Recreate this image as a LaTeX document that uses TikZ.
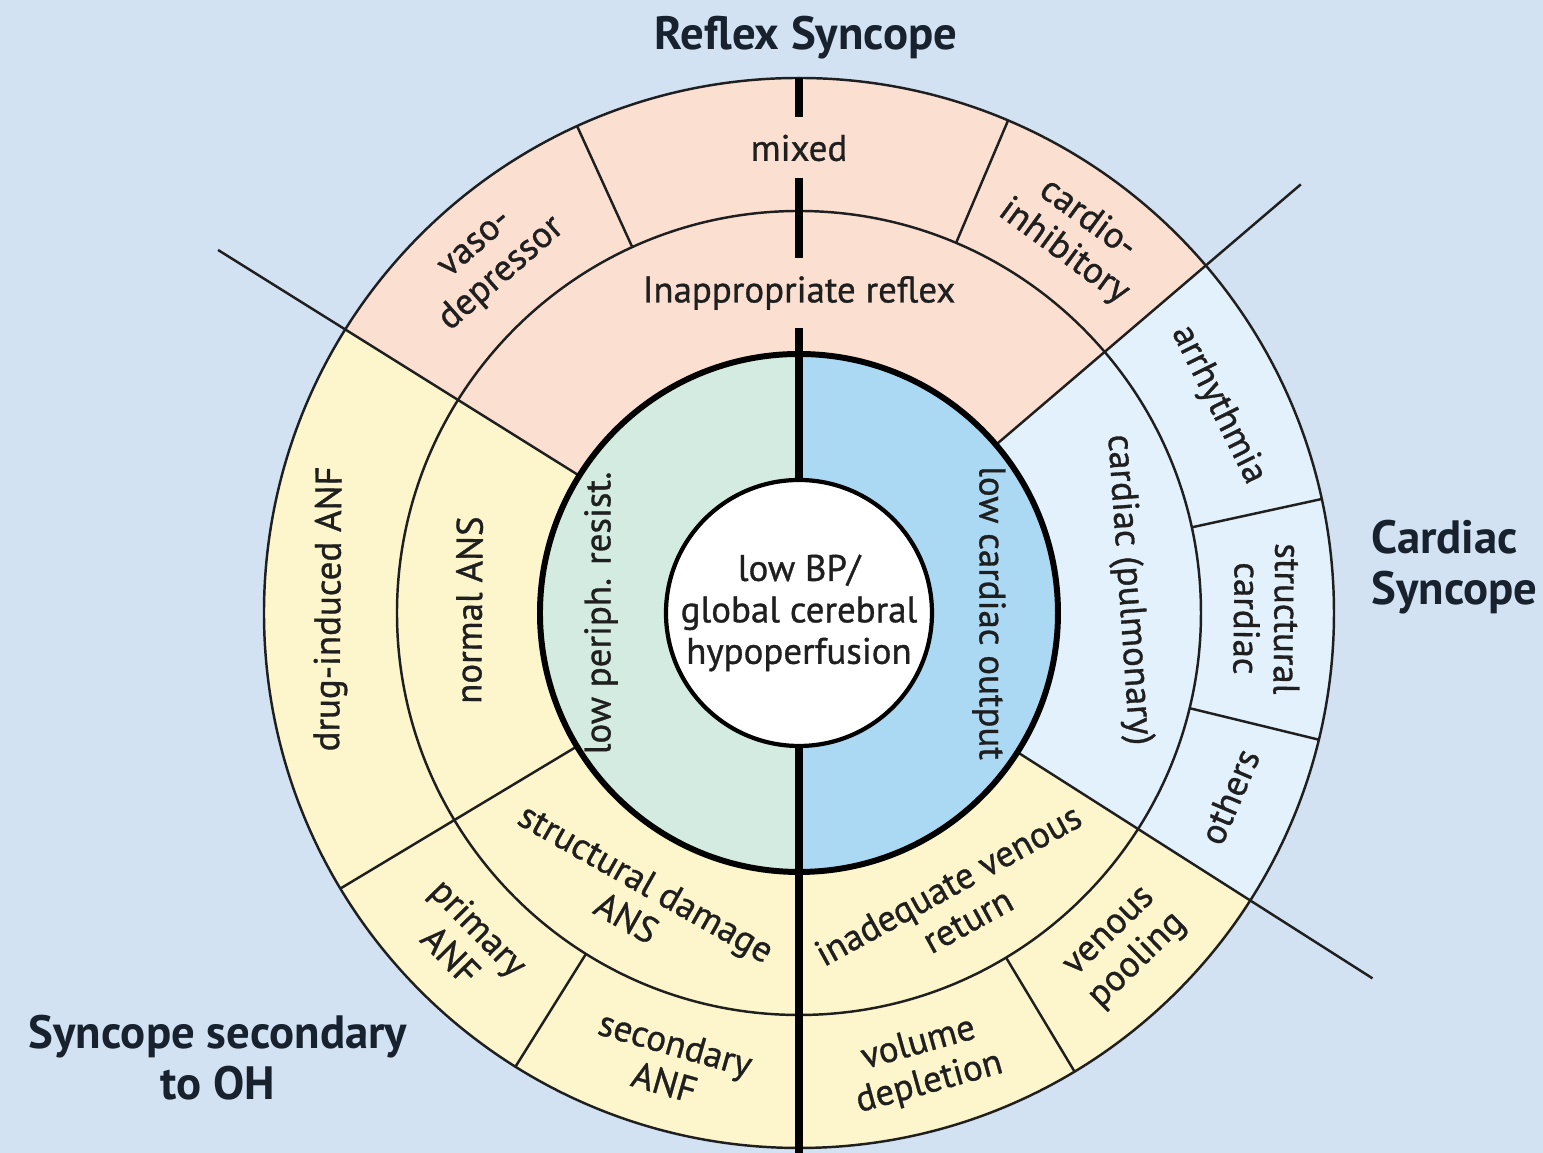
\documentclass[tikz,border=0pt]{standalone}
\usepackage{fontspec}
\setmainfont{PT Sans}
\newfontfamily\ringfont{PT Sans}[RawFeature={embolden=0.9}]
\usetikzlibrary{calc}
\definecolor{bgblue}{HTML}{D2E2F2}
\definecolor{reflexpeach}{HTML}{FBE0D2}
\definecolor{ohyellow}{HTML}{FDF5CB}
\definecolor{cardblue}{HTML}{E2F1FB}
\definecolor{periphgreen}{HTML}{D3EBE0}
\definecolor{outputblue}{HTML}{ABD9F3}
\definecolor{inkgray}{HTML}{1F1F1F}
\definecolor{titleink}{HTML}{18222F}
\tikzset{
  ring/.style={line width=0.7pt, draw=inkgray},
  ringlabel/.style={font=\ringfont\fontsize{10.5}{11.5}\selectfont, align=center, text=inkgray, inner sep=1pt},
  syncopetitle/.style={font=\bfseries\fontsize{13.3}{14.5}\selectfont, align=center, text=titleink},
}

\begin{document}
\begin{tikzpicture}
  % Frame
  \fill[bgblue] (-7.99,-5.40) rectangle (7.44,6.13);
  \useasboundingbox (-7.99,-5.40) rectangle (7.44,6.13);

  % Outer sectors
  \fill[reflexpeach] (40.5:2.59) arc (40.5:148:2.59) -- (148:5.35) arc (148:40.5:5.35) -- cycle;
  \fill[ohyellow] (148:2.59) arc (148:327.5:2.59) -- (327.5:5.35) arc (327.5:148:5.35) -- cycle;
  \fill[cardblue] (-32.5:2.59) arc (-32.5:40.5:2.59) -- (40.5:5.35) arc (40.5:-32.5:5.35) -- cycle;

  % Inner ring
  \fill[periphgreen] (90:2.59) arc (90:270:2.59) -- cycle;
  \fill[outputblue] (-90:2.59) arc (-90:90:2.59) -- cycle;

  % Circles
  \draw[ring] (0,0) circle (4.02);
  \draw[ring] (0,0) circle (5.35);

  % Dividers
  \draw[ring] (148:2.59) -- (148:6.85);
  \draw[ring] (40.5:2.59) -- (40.5:6.60);
  \draw[ring] (-32.5:2.59) -- (-32.5:6.80);
  \draw[ring] (211:2.59) -- (211:5.35);
  \foreach \a in {114.5,67,12.3,-13.7,-59,238}
    \draw[ring] (\a:4.02) -- (\a:5.35);

  % Thick circle
  \draw[line width=1.7pt] (0,0) circle (2.59);

  % Vertical axis
  \draw[line width=2.5pt] (90:5.35) -- (90:4.96);
  \draw[line width=2.5pt] (90:4.35) -- (90:3.55);
  \draw[line width=2.5pt] (90:2.85) -- (90:1.33);
  \draw[line width=2.5pt] (270:1.33) -- (270:5.40);

  % Centre
  \node[circle, draw, fill=white, line width=1.2pt, minimum size=2.66cm, inner sep=0pt,
        font=\ringfont\fontsize{10.5}{11.8}\selectfont, align=center, text=inkgray] (centre) at (0,0)
        {low BP/\\global cerebral\\hypoperfusion};

  % Inner labels
  \node[ringlabel, rotate=90] (periph) at (180:1.98) {low periph. resist.};
  \node[ringlabel, rotate=-90] (output) at (0:1.90) {low cardiac output};

  % Middle labels
  \node[ringlabel] (inapp) at (90:3.20) {Inappropriate reflex};
  \node[ringlabel, rotate=89.5] (normalANS) at (179.5:3.30) {normal ANS};
  \node[ringlabel, rotate=-29.5] (structANS) at (240.5:3.30) {structural damage\\ANS};
  \node[ringlabel, rotate=28.75] (venreturn) at (-61.25:3.30) {inadequate venous\\return};
  \node[ringlabel, rotate=-86] (pulmonary) at (4:3.30) {cardiac (pulmonary)};

  % Outer labels
  \node[ringlabel] (mixed) at (90:4.65) {mixed};
  \node[ringlabel, rotate=41.25] (vaso) at (131.25:4.68) {vaso-\\depressor};
  \node[ringlabel, rotate=-36.25] (cardioinhib) at (53.75:4.68) {cardio-\\inhibitory};
  \node[ringlabel, rotate=-63.6] (arrhythmia) at (26.4:4.68) {arrhythmia};
  \node[ringlabel, rotate=-90.7] (structcard) at (-0.7:4.68) {structural\\cardiac};
  \node[ringlabel, rotate=66.9] (others) at (-23.1:4.68) {others};
  \node[ringlabel, rotate=44.25] (pooling) at (-45.75:4.68) {venous\\pooling};
  \node[ringlabel, rotate=15.5] (volume) at (-74.5:4.68) {volume\\depletion};
  \node[ringlabel, rotate=-16] (secANF) at (254:4.68) {secondary\\ANF};
  \node[ringlabel, rotate=-45.5] (primANF) at (224.5:4.68) {primary\\ANF};
  \node[ringlabel, rotate=89.5] (druginduced) at (179.5:4.68) {drug-induced ANF};

  % Titles
  \node[syncopetitle] (reflexT) at (0.07,5.75) {Reflex Syncope};
  \node[syncopetitle, align=left, anchor=west] (cardiacT) at (5.60,0.46) {Cardiac\\Syncope};
  \node[syncopetitle] (ohT) at (-5.81,-4.45) {Syncope secondary\\to OH};

\end{tikzpicture}
\end{document}
